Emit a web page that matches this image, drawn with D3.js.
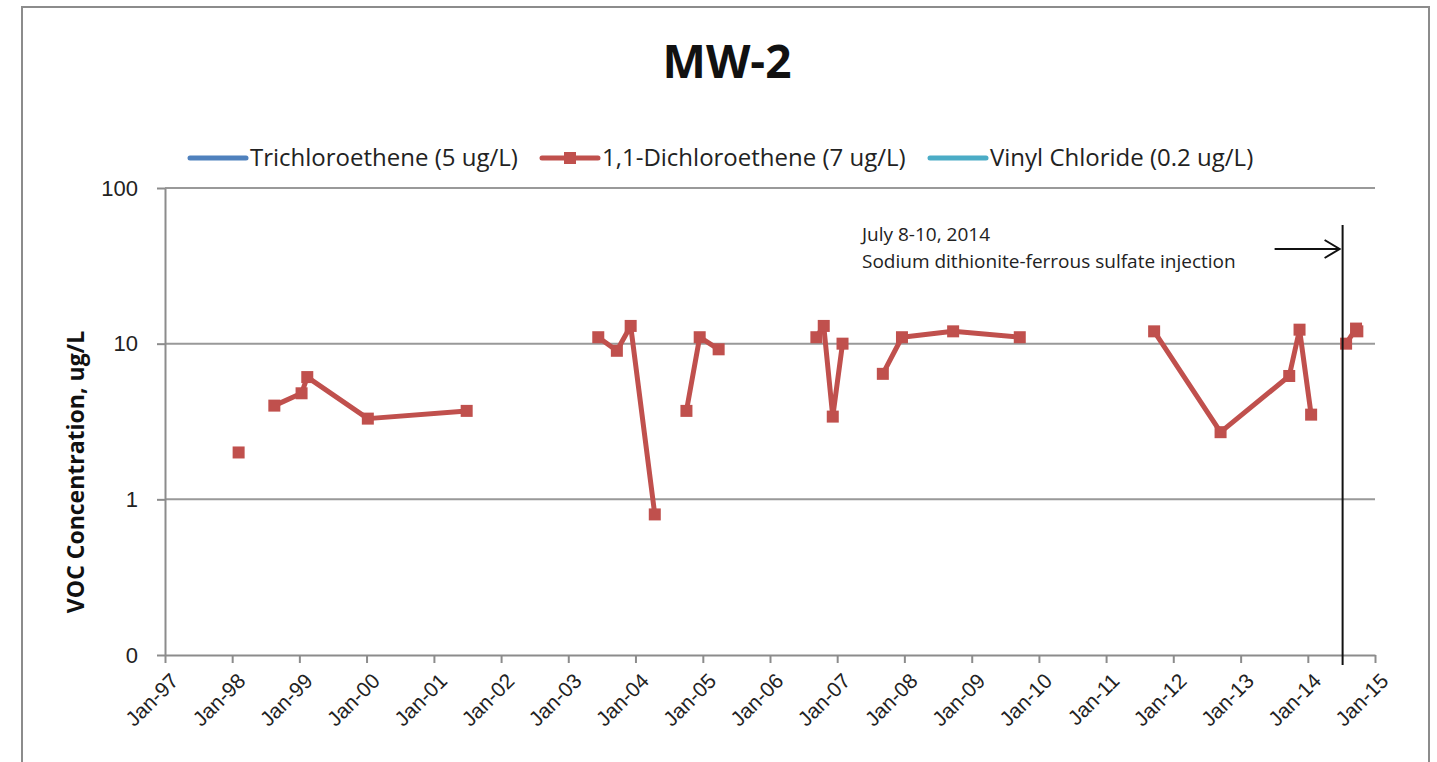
<!DOCTYPE html>
<html>
<head>
<meta charset="utf-8">
<script src="https://cdn.jsdelivr.net/npm/d3@7"></script>
<style>
  body { margin: 0; background: #fff; }
  svg { display: block; font-family: "Open Sans", "Noto Sans", sans-serif; }
</style>
</head>
<body>
<div id="chart"></div>
<script>
// chart data
var seriesNames = ["Trichloroethene (5 ug/L)", "1,1-Dichloroethene (7 ug/L)", "Vinyl Chloride (0.2 ug/L)"];
var seriesColors = ["#4F81BD", "#C0504D", "#4BACC6"];

var sampleDates = ["1998-02-05", "1998-05-01", "1998-08-18", "1999-01-13", "1999-02-13", "2000-01-08",
  "2001-06-28", "2002-06-01", "2003-06-13", "2003-09-22", "2003-12-06", "2004-04-15",
  "2004-07-01", "2004-10-04", "2004-12-15", "2005-03-28", "2006-01-01", "2006-09-10",
  "2006-10-20", "2006-12-08", "2007-01-30", "2007-05-01", "2007-09-06", "2007-12-19",
  "2008-09-22", "2009-09-19", "2010-09-01", "2011-09-19", "2012-09-14", "2013-09-22",
  "2013-11-17", "2014-01-19", "2014-04-01", "2014-07-28", "2014-09-20", "2014-09-27"];

// null = not detected / not reported (breaks the line)
var dceValues = [2.0, null, 4.0, 4.8, 6.1, 3.3,
  3.7, null, 11, 9, 13, 0.8,
  null, 3.7, 11, 9.2, null, 11,
  13, 3.4, 10, null, 6.4, 11,
  12, 11, null, 12, 2.7, 6.2,
  12.3, 3.5, null, 10, 12.5, 12];
var tceValues = sampleDates.map(function() { return null; });
var vcValues = sampleDates.map(function() { return null; });

var yTickValues = [0.1, 1, 10, 100];
var yTickLabels = ["0", "1", "10", "100"];
var injectionDate = "2014-07-09";
var noteLines = ["July 8-10, 2014", "Sodium dithionite-ferrous sulfate injection"];

var svgWidth = 1437;
var svgHeight = 762;
var margin = { top: 188, right: 62, bottom: 107, left: 165 };
var width = svgWidth - margin.left - margin.right;
var height = svgHeight - margin.top - margin.bottom;

var parseDate = d3.timeParse("%Y-%m-%d");

var svg = d3.select("#chart")
  .append("svg")
  .attr("width", svgWidth)
  .attr("height", svgHeight);

// outer frame
svg.append("rect")
  .attr("x", 22)
  .attr("y", 7)
  .attr("width", 1407)
  .attr("height", 800)
  .attr("fill", "none")
  .attr("stroke", "#8c8c8c")
  .attr("stroke-width", 2);

var chartGroup = svg.append("g")
  .attr("transform", `translate(${margin.left}, ${margin.top})`);

var xScale = d3.scaleTime()
  .domain([parseDate("1997-01-01"), parseDate("2015-01-01")])
  .range([0, width]);

var yScale = d3.scaleLog()
  .domain([0.1, 100])
  .range([height, 0]);

// horizontal grid lines
chartGroup.selectAll(".grid")
  .data(yTickValues.slice(1))
  .enter()
  .append("line")
  .attr("x1", 0)
  .attr("x2", width)
  .attr("y1", d => yScale(d))
  .attr("y2", d => yScale(d))
  .attr("stroke", "#999")
  .attr("stroke-width", 2);

// axes
var bottomAxis = d3.axisBottom(xScale)
  .ticks(d3.timeYear.every(1))
  .tickFormat(d3.timeFormat("Jan-%y"))
  .tickSizeInner(8)
  .tickSizeOuter(0);

var leftAxis = d3.axisLeft(yScale)
  .tickValues(yTickValues)
  .tickFormat((d, i) => yTickLabels[i])
  .tickSizeInner(8)
  .tickSizeOuter(0);

var xAxisG = chartGroup.append("g")
  .attr("transform", `translate(0, ${height})`)
  .call(bottomAxis);

xAxisG.selectAll("text")
  .attr("transform", "translate(9, 22) rotate(-45)")
  .attr("text-anchor", "end")
  .attr("dy", "0.35em")
  .attr("dx", "0")
  .attr("y", 0)
  .attr("x", 0)
  .attr("font-size", "21px")
  .attr("fill", "#222");

var yAxisG = chartGroup.append("g")
  .call(leftAxis);

yAxisG.selectAll("text")
  .attr("x", -27)
  .attr("font-size", "22px")
  .attr("fill", "#222");

chartGroup.selectAll(".domain, .tick line")
  .attr("stroke", "#8c8c8c")
  .attr("stroke-width", 2);

// series lines
var lineGen = d3.line()
  .defined(d => d.v !== null)
  .x(d => xScale(d.t))
  .y(d => yScale(d.v));

var allSeries = [tceValues, dceValues, vcValues].map(function(vals, k) {
  return {
    name: seriesNames[k],
    color: seriesColors[k],
    points: sampleDates.map((s, i) => ({ t: parseDate(s), v: vals[i] }))
  };
});

allSeries.forEach(function(s) {
  chartGroup.append("path")
    .datum(s.points)
    .attr("fill", "none")
    .attr("stroke", s.color)
    .attr("stroke-width", 5)
    .attr("stroke-linejoin", "round")
    .attr("d", lineGen);

  chartGroup.selectAll(null)
    .data(s.points.filter(d => d.v !== null))
    .enter()
    .append("rect")
    .attr("x", d => xScale(d.t) - 6)
    .attr("y", d => yScale(d.v) - 6)
    .attr("width", 12)
    .attr("height", 12)
    .attr("fill", s.color);
});

// injection marker
var injX = xScale(parseDate(injectionDate));
chartGroup.append("line")
  .attr("x1", injX)
  .attr("x2", injX)
  .attr("y1", 37)
  .attr("y2", height + 10)
  .attr("stroke", "#111")
  .attr("stroke-width", 2);

var arrowY = 61;
chartGroup.append("line")
  .attr("x1", injX - 68)
  .attr("x2", injX - 3)
  .attr("y1", arrowY)
  .attr("y2", arrowY)
  .attr("stroke", "#111")
  .attr("stroke-width", 2);
chartGroup.append("path")
  .attr("d", `M${injX - 18},${arrowY - 9} L${injX - 3},${arrowY} L${injX - 18},${arrowY + 9}`)
  .attr("fill", "none")
  .attr("stroke", "#111")
  .attr("stroke-width", 2);

chartGroup.selectAll(".note")
  .data(noteLines)
  .enter()
  .append("text")
  .attr("x", 862 - margin.left)
  .attr("y", (d, i) => 53 + i * 27)
  .attr("font-size", "19px")
  .attr("fill", "#222")
  .text(d => d);

// title
svg.append("text")
  .attr("x", 727)
  .attr("y", 78)
  .attr("text-anchor", "middle")
  .attr("font-size", "46px")
  .attr("font-weight", "bold")
  .attr("fill", "#111")
  .text("MW-2");

// y axis label
svg.append("text")
  .attr("transform", "rotate(-90)")
  .attr("x", -472)
  .attr("y", 84)
  .attr("text-anchor", "middle")
  .attr("font-size", "23px")
  .attr("font-weight", "bold")
  .attr("fill", "#111")
  .text("VOC Concentration, ug/L");

// legend
var legendX = [190, 542, 930];
var legend = svg.selectAll(".legend")
  .data(allSeries)
  .enter()
  .append("g")
  .attr("transform", (d, i) => `translate(${legendX[i]}, 158)`);

legend.append("line")
  .attr("x1", 0)
  .attr("x2", 56)
  .attr("stroke", d => d.color)
  .attr("stroke-width", 5)
  .attr("stroke-linecap", "round");

legend.filter((d, i) => i === 1)
  .append("rect")
  .attr("x", 22)
  .attr("y", -6)
  .attr("width", 12)
  .attr("height", 12)
  .attr("fill", d => d.color);

legend.append("text")
  .attr("x", 60)
  .attr("y", 8)
  .attr("font-size", "24px")
  .attr("fill", "#222")
  .text(d => d.name);
</script>
</body>
</html>
